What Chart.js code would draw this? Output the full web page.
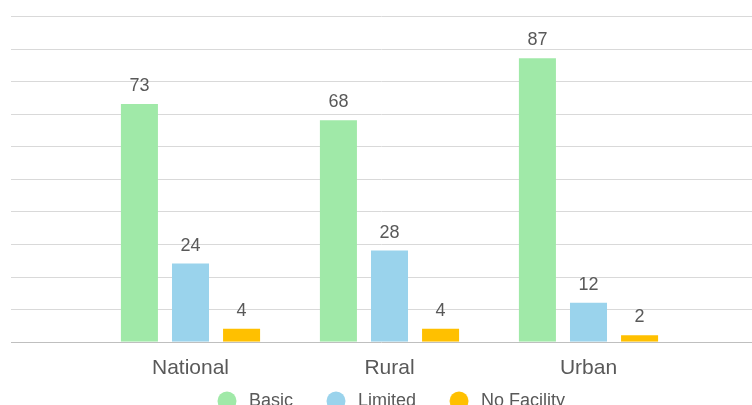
<!DOCTYPE html>
<html>
<head>
<meta charset="utf-8">
<style>
  html, body { margin: 0; padding: 0; background: #fff; }
  #wrap { width: 752px; height: 405px; overflow: hidden; }
  #box { width: 752px; height: 445px; position: relative; }
</style>
<script src="https://cdn.jsdelivr.net/npm/chart.js@4/dist/chart.umd.min.js"></script>
</head>
<body>
<div id="wrap"><div id="box"><canvas id="facilityChart"></canvas></div></div>
<script>
// categories and series
const areas = ['National', 'Rural', 'Urban'];
const basic = [73, 68, 87];
const limited = [24, 28, 12];
const noFacility = [4, 4, 2];
const gridValues = [0, 10, 20, 30, 40, 50, 60, 70, 80, 90, 100];

const GREEN = '#a0e9a8';
const BLUE = '#9ad3ec';
const GOLD = '#ffc000';
const TEXT = '#595959';
const FONT = '"Liberation Sans", Arial, sans-serif';

// round legend marker on a wider canvas so the label sits further out
function legendDot(color) {
  const c = document.createElement('canvas');
  c.width = 26;
  c.height = 20;
  const g = c.getContext('2d');
  g.fillStyle = color;
  g.beginPath();
  g.arc(13, 10, 9.5, 0, Math.PI * 2);
  g.fill();
  return c;
}

// horizontal grid running the full width of the canvas
const fullGrid = {
  id: 'fullGrid',
  beforeDatasetsDraw(chart) {
    const y = chart.scales.y;
    const c = chart.ctx;
    c.save();
    c.lineWidth = 1;
    gridValues.forEach(v => {
      const py = Math.round(y.getPixelForValue(v)) + 0.5;
      c.strokeStyle = v === 0 ? '#bfbfbf' : '#d9d9d9';
      c.beginPath();
      c.moveTo(11, py);
      c.lineTo(chart.width, py);
      c.stroke();
    });
    c.restore();
  }
};

// value printed above each bar
const barValues = {
  id: 'barValues',
  afterDatasetsDraw(chart) {
    const c = chart.ctx;
    c.save();
    c.font = '18px ' + FONT;
    c.fillStyle = TEXT;
    c.textAlign = 'center';
    c.textBaseline = 'alphabetic';
    chart.data.datasets.forEach((ds, i) => {
      chart.getDatasetMeta(i).data.forEach((bar, j) => {
        c.fillText(ds.data[j], bar.x, bar.y - 13);
      });
    });
    c.restore();
  }
};

// the wide label padding also pads the legend vertically; pull it back up
const liftLegend = {
  id: 'liftLegend',
  afterLayout(chart) {
    chart.legend.top -= 25;
    chart.legend.bottom -= 25;
  }
};

new Chart(document.getElementById('facilityChart'), {
  type: 'bar',
  data: {
    labels: areas,
    datasets: [
      { label: 'Basic', data: basic, backgroundColor: GREEN, pointStyle: legendDot(GREEN) },
      { label: 'Limited', data: limited, backgroundColor: BLUE, pointStyle: legendDot(BLUE) },
      { label: 'No Facility', data: noFacility, backgroundColor: GOLD, pointStyle: legendDot(GOLD) }
    ]
  },
  options: {
    responsive: true,
    maintainAspectRatio: false,
    animation: false,
    categoryPercentage: 0.77,
    barPercentage: 0.725,
    layout: { padding: { left: 91, right: 64, top: 16, bottom: 0 } },
    scales: {
      x: {
        grid: { display: false },
        border: { display: false },
        ticks: { color: TEXT, font: { family: FONT, size: 21 }, padding: 6 }
      },
      y: {
        display: false,
        min: 0,
        max: 100
      }
    },
    plugins: {
      legend: {
        position: 'bottom',
        labels: {
          usePointStyle: true,
          pointStyleWidth: 26,
          boxHeight: 18,
          padding: 30,
          color: TEXT,
          font: { family: FONT, size: 18 }
        }
      },
      tooltip: { enabled: false }
    }
  },
  plugins: [fullGrid, barValues, liftLegend]
});
</script>
</body>
</html>
